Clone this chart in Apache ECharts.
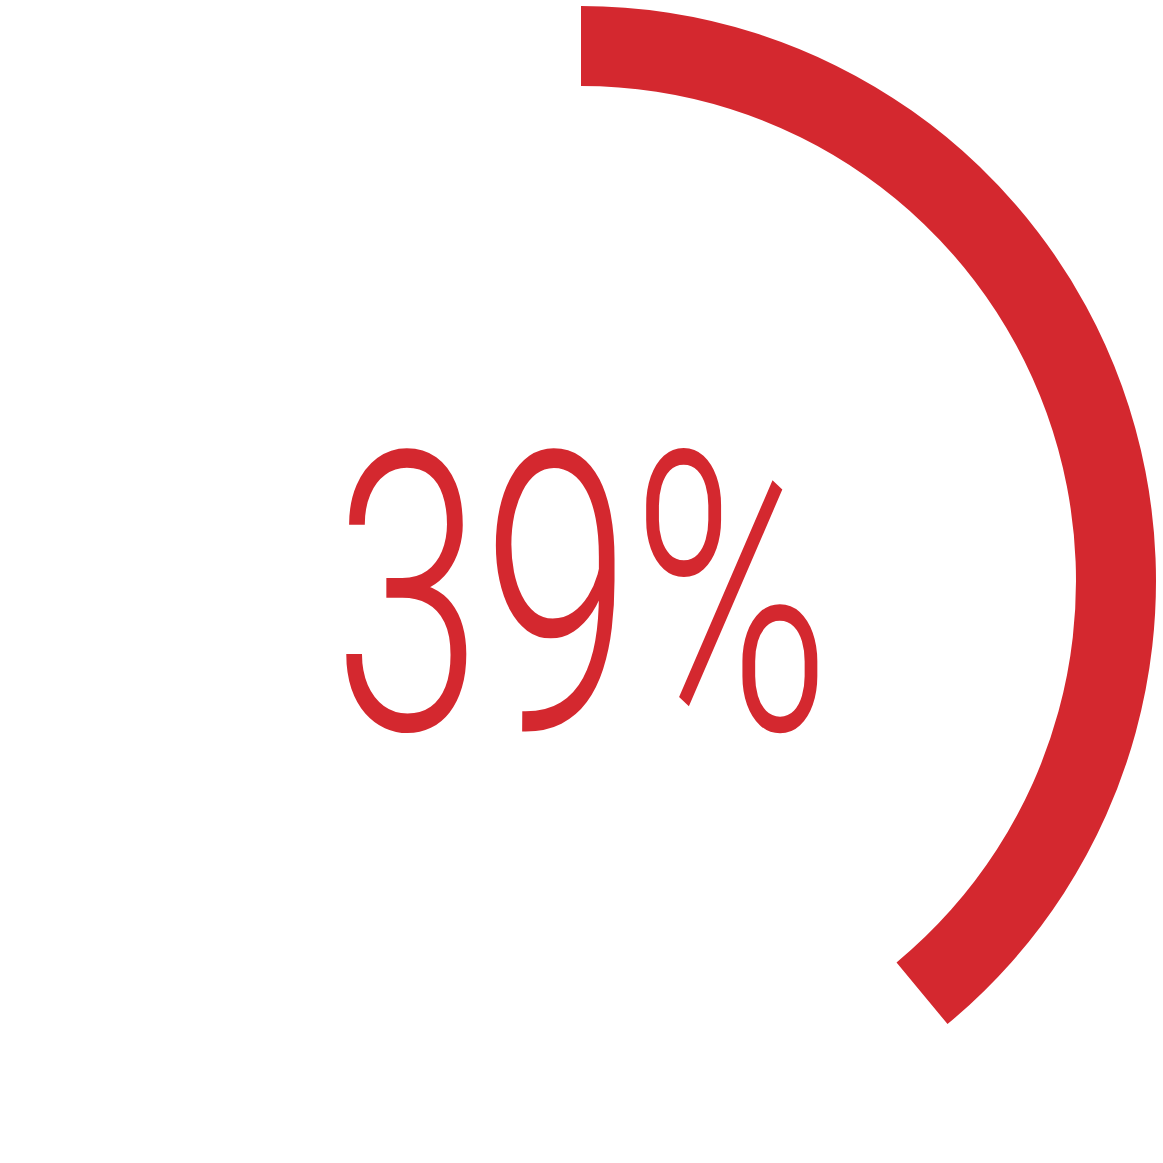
<!DOCTYPE html>
<html>
<head>
<meta charset="utf-8">
<script src="https://cdn.jsdelivr.net/npm/echarts@6/dist/echarts.min.js"></script>
<style>html,body{margin:0;padding:0;background:#fff;}#c{width:1163px;height:1163px;}</style>
</head>
<body>
<div id="c"></div>
<script>
var categories = ['Share'];
var values = [39];
var scaleMax = 100;
var labelText = values[0] + '%';

var chart = echarts.init(document.getElementById('c'), null, {renderer: 'svg'});
chart.setOption({
  backgroundColor: '#ffffff',
  animation: false,
  series: [{
    type: 'gauge',
    center: [581, 581],
    radius: 575,
    startAngle: 90,
    endAngle: -270,
    min: 0,
    max: scaleMax,
    silent: true,
    progress: {show: true, width: 80, roundCap: false, itemStyle: {color: '#D4282F'}},
    axisLine: {show: false},
    axisTick: {show: false},
    splitLine: {show: false},
    axisLabel: {show: false},
    pointer: {show: false},
    anchor: {show: false},
    title: {show: false},
    detail: {show: false},
    data: categories.map(function (c, i) { return {name: c, value: values[i]}; })
  }],
  graphic: [{
    type: 'text',
    x: 582,
    y: 791,
    scaleX: 0.69,
    style: {
      text: labelText,
      fill: '#D4282F',
      font: '300 390px Roboto',
      textAlign: 'center',
      textVerticalAlign: 'bottom'
    }
  }]
});
</script>
</body>
</html>
